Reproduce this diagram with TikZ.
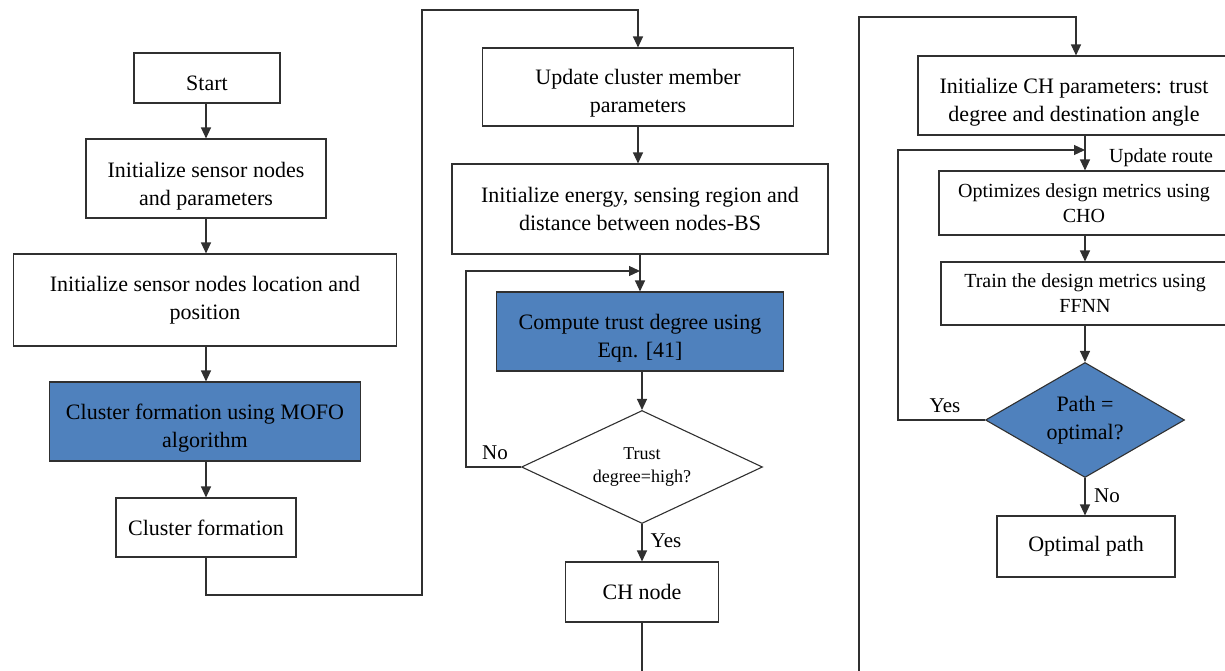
\documentclass[tikz,border=0pt]{standalone}
\usepackage{fontspec}
\setmainfont{Liberation Serif}
\usetikzlibrary{arrows.meta,shapes.geometric}
\definecolor{ofblue}{HTML}{4F81BD}
\definecolor{lncol}{HTML}{303030}
\newcommand\dnshift[1]{\rule{0pt}{\dimexpr\fontcharht\font`d+#1\relax}}
\tikzset{
  box/.style={draw=lncol, line width=1.1pt, fill=white, align=center, inner sep=0pt,
    font=\fontsize{22}{28}\selectfont},
  bluebox/.style={box, fill=ofblue},
  decision/.style={shape=diamond, draw=lncol, line width=1.1pt, fill=white, align=center,
    inner sep=0pt},
  arr/.style={draw=lncol, line width=1.2pt, -{Triangle[length=11pt,width=10pt]}},
  lbl/.style={font=\fontsize{21}{24}\selectfont, inner sep=0pt},
}
\begin{document}
\begin{tikzpicture}[x=1pt,y=-1pt]
\useasboundingbox (0,0) rectangle (1225,671);
\clip (0,0) rectangle (1225,671);
% left column
\node[box, minimum width=146pt, minimum height=50pt] (start) at (207,78) {\dnshift{10pt}Start};
\node[box, minimum width=240pt, minimum height=79pt] (init) at (206,178.5) {\dnshift{16pt}Initialize sensor nodes\\and parameters};
\node[box, minimum width=383pt, minimum height=92pt] (loc) at (205,300) {Initialize sensor nodes location and\\position};
\node[bluebox, minimum width=311pt, minimum height=79pt] (mofo) at (205,421.5) {\dnshift{14pt}Cluster formation using MOFO\\algorithm};
\node[box, minimum width=180pt, minimum height=59pt] (cf) at (206,527.5) {Cluster formation};
% middle column
\node[box, minimum width=311pt, minimum height=78pt] (upd) at (638,87) {\dnshift{14pt}Update cluster member\\parameters};
\node[box, minimum width=376pt, minimum height=90pt] (energy) at (640,209) {Initialize energy, sensing region and\\distance between nodes-BS};
\node[bluebox, minimum width=287pt, minimum height=79pt] (trust) at (640,331.5) {\dnshift{14pt}Compute trust degree using\\Eqn. [41]};
\node[decision, shape aspect=2.13, minimum width=241pt, minimum height=113pt, font=\fontsize{18}{23}\selectfont] (dia1) at (642,467) {Trust\\degree=high?};
\node[box, minimum width=153pt, minimum height=60pt] (ch) at (642,592) {CH node};
% right column
\node[box, minimum width=312pt, minimum height=79pt] (chp) at (1074,95.5) {\dnshift{14pt}Initialize CH parameters: trust\\degree and destination angle};
\node[box, minimum width=290pt, minimum height=64pt, font=\fontsize{20}{25}\selectfont] (opt) at (1084,203) {Optimizes design metrics using\\CHO};
\node[box, minimum width=288pt, minimum height=63pt, font=\fontsize{20}{25}\selectfont] (train) at (1085,293.5) {Train the design metrics using\\FFNN};
\node[decision, fill=ofblue, shape aspect=1.73, minimum width=199pt, minimum height=115pt, font=\fontsize{22}{28}\selectfont] (dia2) at (1085,420) {Path =\\optimal?};
\node[box, minimum width=178pt, minimum height=61pt] (optp) at (1086,546.5) {Optimal path};
% junction coordinates
\coordinate (ja) at (422,595);
\coordinate (jb) at (638,10);
\coordinate (m1) at (466,271);
\coordinate (m2) at (640,271);
\coordinate (k1) at (859,700);
\coordinate (k2) at (1076,17);
\coordinate (r1) at (898,150);
\coordinate (r2) at (1085,150);
% connectors left
\draw[arr] (start.south -| init.north) -- (init.north);
\draw[arr] (init.south) -- (loc.north -| init.south);
\draw[arr] (loc.south -| init.south) -- (mofo.north -| init.south);
\draw[arr] (mofo.south -| init.south) -- (cf.north);
\draw[arr] (cf.south) |- (ja) |- (jb) -- (upd.north);
% connectors middle
\draw[arr] (upd.south) -- (energy.north -| upd.south);
\draw[arr] (energy.south) -- (trust.north);
\draw[arr] (trust.south -| dia1.north) -- (dia1.north);
\draw[arr] (dia1.west) -| (m1) -- (m2);
\draw[arr] (dia1.south) -- (ch.north -| dia1.south);
\node[lbl] (no1) at (495,453) {No};
\node[lbl] (yes1) at (666,541) {Yes};
% connectors right
\draw[arr] (ch.south) |- (k1) |- (k2) -- (k2 |- chp.north);
\draw[arr] (chp.south -| r2) -- (opt.north -| r2);
\draw[arr] (opt.south -| r2) -- (train.north -| r2);
\draw[arr] (train.south -| dia2.north) -- (dia2.north);
\draw[arr] (dia2.west) -| (r1) -- (r2);
\draw[arr] (dia2.south) -- (optp.north -| dia2.south);
\node[lbl, font=\fontsize{20}{24}\selectfont] (ur) at (1161,158) {Update route};
\node[lbl] (yes2) at (945,406) {Yes};
\node[lbl] (no2) at (1107,496) {No};
\end{tikzpicture}
\end{document}
